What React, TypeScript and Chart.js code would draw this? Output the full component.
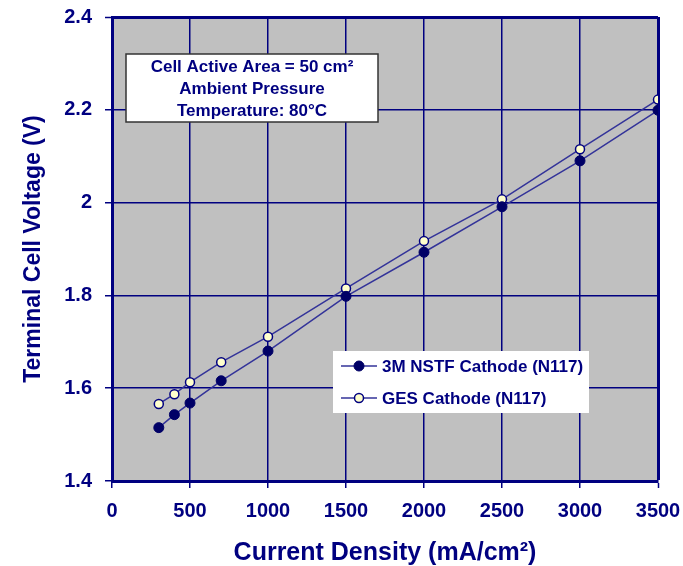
import { useEffect, useRef } from "react";
import { Chart, registerables } from "chart.js";

Chart.register(...registerables);

// ---- Data ----
const currentDensity = [300, 400, 500, 700, 1000, 1500, 2000, 2500, 3000, 3500];
const nstfVoltage = [1.515, 1.543, 1.568, 1.616, 1.68, 1.798, 1.893, 1.991, 2.09, 2.199];
const gesVoltage = [1.566, 1.587, 1.613, 1.656, 1.711, 1.815, 1.917, 2.007, 2.115, 2.222];
const seriesLabels = ["3M NSTF Cathode (N117)", "GES Cathode (N117)"];
const xTicks = [0, 500, 1000, 1500, 2000, 2500, 3000, 3500];
const yTicks = [1.4, 1.6, 1.8, 2, 2.2, 2.4];
const annotationLines = ["Cell Active Area = 50 cm\u00B2", "Ambient Pressure", "Temperature: 80\u00B0C"];
const xTitle = "Current Density (mA/cm\u00B2)";
const yTitle = "Terminal Cell Voltage (V)";

const NAVY = "#000080";
const FONT = "'Liberation Sans', Arial, sans-serif";

const plotBackground = {
  id: "plotBackground",
  beforeDraw(chart: any) {
    const { ctx, chartArea } = chart;
    ctx.save();
    ctx.fillStyle = "#C0C0C0";
    ctx.fillRect(chartArea.left, chartArea.top, chartArea.right - chartArea.left, chartArea.bottom - chartArea.top);
    ctx.restore();
  },
};

const overlays = {
  id: "overlays",
  afterDraw(chart: any) {
    const { ctx, chartArea } = chart;
    ctx.save();
    // annotation box
    const bx = chartArea.left + 14;
    const by = chartArea.top + 37;
    const bw = 252;
    const bh = 68;
    ctx.fillStyle = "#FFFFFF";
    ctx.fillRect(bx, by, bw, bh);
    ctx.strokeStyle = "#333333";
    ctx.lineWidth = 1.5;
    ctx.strokeRect(bx, by, bw, bh);
    ctx.fillStyle = NAVY;
    ctx.font = `bold 17px ${FONT}`;
    ctx.textAlign = "center";
    ctx.textBaseline = "middle";
    annotationLines.forEach((t, i) => {
      ctx.fillText(t, bx + bw / 2, by + 13 + i * 22);
    });

    // legend box
    const lx = chartArea.left + 221;
    const ly = chartArea.top + 334;
    const lw = 256;
    const lh = 62;
    ctx.fillStyle = "#FFFFFF";
    ctx.fillRect(lx, ly, lw, lh);
    ctx.textAlign = "left";
    chart.data.datasets.forEach((ds: any, i: number) => {
      const y = ly + 15 + i * 32;
      ctx.strokeStyle = ds.borderColor;
      ctx.lineWidth = ds.borderWidth;
      ctx.beginPath();
      ctx.moveTo(lx + 8, y);
      ctx.lineTo(lx + 44, y);
      ctx.stroke();
      ctx.beginPath();
      ctx.arc(lx + 26, y, ds.pointRadius, 0, Math.PI * 2);
      ctx.fillStyle = ds.pointBackgroundColor;
      ctx.fill();
      ctx.strokeStyle = ds.pointBorderColor;
      ctx.lineWidth = ds.pointBorderWidth;
      ctx.stroke();
      ctx.fillStyle = NAVY;
      ctx.font = `bold 17px ${FONT}`;
      ctx.fillText(ds.label, lx + 49, y + 1);
    });
    ctx.restore();
  },
};

export default function App() {
  const ref = useRef<HTMLCanvasElement>(null);

  useEffect(() => {
    document.body.style.margin = "0";
    const canvas = ref.current;
    if (!canvas) return;
    const chart = new Chart(canvas, {
      type: "line",
      data: {
        datasets: [
          {
            label: seriesLabels[0],
            data: currentDensity.map((x, i) => ({ x, y: nstfVoltage[i] })),
            borderColor: "#333399",
            borderWidth: 1.5,
            pointRadius: 5,
            pointBackgroundColor: "#000066",
            pointBorderColor: "#000066",
            pointBorderWidth: 1,
          },
          {
            label: seriesLabels[1],
            data: currentDensity.map((x, i) => ({ x, y: gesVoltage[i] })),
            borderColor: "#333399",
            borderWidth: 1.5,
            pointRadius: 4.5,
            pointBackgroundColor: "#FFFFCC",
            pointBorderColor: "#000080",
            pointBorderWidth: 1.5,
          },
        ],
      },
      options: {
        animation: false,
        responsive: false,
        layout: { padding: { top: 17, right: 25, left: 0, bottom: 0 } },
        plugins: { legend: { display: false }, tooltip: { enabled: false } },
        scales: {
          x: {
            type: "linear",
            min: 0,
            max: 3500,
            afterFit: (s: any) => {
              s.height = 85;
              s.paddingLeft = 0;
              s.paddingRight = 0;
            },
            afterBuildTicks: (s: any) => {
              s.ticks = xTicks.map((v) => ({ value: v }));
            },
            ticks: {
              color: NAVY,
              font: { family: FONT, size: 20, weight: "bold" },
              padding: 11,
              maxRotation: 0,
              callback: (v: any) => String(v),
            },
            grid: {
              color: NAVY,
              lineWidth: (c: any) => (c.index === xTicks.length - 1 ? 3 : 1.5),
              tickLength: 7,
              tickColor: NAVY,
              tickWidth: 1.5,
            },
            border: { display: true, color: NAVY, width: 3 },
            title: {
              display: true,
              text: xTitle,
              color: NAVY,
              font: { family: FONT, size: 25, weight: "bold", lineHeight: 1 },
              padding: { top: 0, bottom: 0 },
            },
          },
          y: {
            type: "linear",
            min: 1.4,
            max: 2.4,
            afterFit: (s: any) => {
              s.width = 112;
              s.paddingTop = 0;
              s.paddingBottom = 0;
            },
            afterBuildTicks: (s: any) => {
              s.ticks = yTicks.map((v) => ({ value: v }));
            },
            ticks: {
              color: NAVY,
              font: { family: FONT, size: 20, weight: "bold" },
              padding: 13,
              callback: (v: any) => String(v),
            },
            grid: {
              color: NAVY,
              lineWidth: (c: any) => (c.index === yTicks.length - 1 ? 3 : 1.5),
              tickLength: 7,
              tickColor: NAVY,
              tickWidth: 1.5,
            },
            border: { display: true, color: NAVY, width: 3 },
            title: {
              display: true,
              text: yTitle,
              color: NAVY,
              font: { family: FONT, size: 23, weight: "bold", lineHeight: 1.2 },
              padding: { top: 20, bottom: 0 },
            },
          },
        },
      },
      plugins: [plotBackground, overlays],
    });
    return () => chart.destroy();
  }, []);

  return <canvas ref={ref} width={683} height={566} style={{ display: "block" }} />;
}
